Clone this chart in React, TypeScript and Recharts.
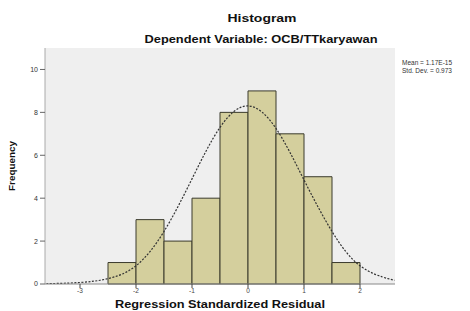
import React from 'react';
import { ComposedChart, Line, XAxis, YAxis, ReferenceArea, CartesianGrid } from 'recharts';

const binEdges = [-2.5, -2, -1.5, -1, -0.5, 0, 0.5, 1, 1.5, 2];
const frequencies = [1, 3, 2, 4, 8, 9, 7, 5, 1];
const curveX = [-3.6, -3.5, -3, -2.5, -2, -1.5, -1, -0.5, 0, 0.5, 1, 1.5, 2, 2.5, 2.62];
const curveY = [0.01, 0.02, 0.07, 0.25, 0.85, 2.45, 4.9, 7.3, 8.3, 7.25, 4.85, 2.45, 0.85, 0.25, 0.19];
const xTicks = [-3, -2, -1, 0, 1, 2];
const yTicks = [0, 2, 4, 6, 8, 10];
const titleText = 'Histogram';
const subtitleText = 'Dependent Variable: OCB/TTkaryawan';
const xLabel = 'Regression Standardized Residual';
const yLabel = 'Frequency';
const statLines = ['Mean = 1.17E-15', 'Std. Dev. = 0.973'];

const curveData = curveX.map((x, i) => ({ x, y: curveY[i] }));
const bins = frequencies.map((f, i) => ({ x1: binEdges[i], x2: binEdges[i + 1], f }));

export default function App() {
  return (
    <div style={{ position: 'absolute', left: 0, top: 0, width: 470, height: 311, background: '#fff', fontFamily: 'Arial, "Liberation Sans", sans-serif' }}>
      <ComposedChart width={470} height={311} data={curveData} margin={{ top: 48, right: 75, bottom: 12, left: 25 }}>
        <CartesianGrid fill="#efefef" horizontal={false} vertical={false} />
        <XAxis
          dataKey="x"
          type="number"
          domain={[-3.625, 2.625]}
          allowDataOverflow
          ticks={xTicks}
          height={15}
          tickSize={4}
          tick={{ fontSize: 6.5, fill: '#444', dy: -2 }}
          tickLine={{ stroke: '#444' }}
          axisLine={{ stroke: '#888' }}
        />
        <YAxis
          type="number"
          domain={[0, 11]}
          allowDataOverflow
          ticks={yTicks}
          width={20}
          tickSize={5}
          tick={{ fontSize: 7, fill: '#333' }}
          tickLine={{ stroke: '#666' }}
          axisLine={{ stroke: '#aaa' }}
        />
        <YAxis yAxisId="r" orientation="right" width={0} tick={false} tickLine={false} axisLine={{ stroke: '#999' }} />
        {bins.map((b, i) => (
          <ReferenceArea
            key={i}
            x1={b.x1}
            x2={b.x2}
            y1={0}
            y2={b.f}
            fill="#d4cf9d"
            fillOpacity={1}
            stroke="#3a3a2c"
            strokeWidth={1}
            ifOverflow="visible"
          />
        ))}
        <Line
          dataKey="y"
          type="natural"
          dot={false}
          stroke="#333"
          strokeWidth={1.2}
          strokeDasharray="2 1.5"
          isAnimationActive={false}
        />
      </ComposedChart>
      <svg width={470} height={311} style={{ position: 'absolute', left: 0, top: 0, pointerEvents: 'none' }}>
        <text x={262} y={22} textAnchor="middle" fontSize={10} fontWeight="bold" fill="#111" textLength={69} lengthAdjust="spacingAndGlyphs">{titleText}</text>
        <text x={261} y={43} textAnchor="middle" fontSize={10} fontWeight="bold" fill="#111" textLength={233} lengthAdjust="spacingAndGlyphs">{subtitleText}</text>
        <text x={220} y={308} textAnchor="middle" fontSize={10} fontWeight="bold" fill="#111" textLength={210} lengthAdjust="spacingAndGlyphs">{xLabel}</text>
        <text x={15} y={166} textAnchor="middle" fontSize={9} fontWeight="bold" fill="#111" transform="rotate(-90 15 166)" textLength={50} lengthAdjust="spacingAndGlyphs">{yLabel}</text>
        {statLines.map((s, i) => (
          <text key={i} x={402} y={65 + i * 8} fontSize={6.5} fill="#333">{s}</text>
        ))}
      </svg>
    </div>
  );
}
